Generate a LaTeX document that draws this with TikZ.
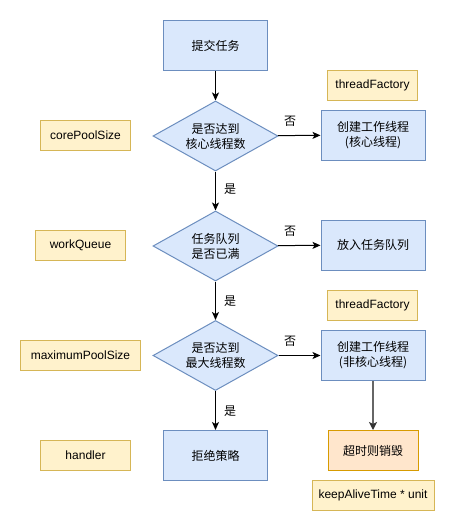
\documentclass[tikz,border=0pt]{standalone}
\usepackage{fontspec}
\setmainfont{Liberation Sans}
\newfontfamily\cjk{Noto Sans CJK SC}
\usetikzlibrary{shapes.geometric,arrows.meta}
\definecolor{bluefill}{HTML}{DAE8FC}
\definecolor{bluestroke}{HTML}{6C8EBF}
\definecolor{yelfill}{HTML}{FFF2CC}
\definecolor{yelstroke}{HTML}{D6B656}
\definecolor{orfill}{HTML}{FFE6CC}
\definecolor{orstroke}{HTML}{D79B00}
\definecolor{grayline}{HTML}{666666}
\tikzset{
  bluebox/.style={draw=bluestroke, fill=bluefill, line width=1pt, minimum width=104pt, minimum height=50pt, inner sep=0pt, align=center, font=\cjk\fontsize{12}{15}\selectfont},
  decision/.style={diamond, aspect=1.786, draw=bluestroke, fill=bluefill, line width=1pt, minimum width=125pt, minimum height=70pt, inner sep=0pt, align=center, font=\cjk\fontsize{12}{15}\selectfont},
  param/.style={draw=yelstroke, fill=yelfill, line width=1pt, minimum height=30pt, inner sep=0pt, font=\fontsize{12}{15}\selectfont},
  orbox/.style={draw=orstroke, fill=orfill, line width=1pt, minimum width=90pt, minimum height=40pt, inner sep=0pt, font=\cjk\fontsize{12}{15}\selectfont},
  arr/.style={line width=1pt, -{Stealth[length=8pt,width=7pt,inset=2pt]}},
  grayarr/.style={line width=1.6pt, draw=grayline, -{Stealth[length=8pt,width=8pt,inset=2pt,color=black!80,fill=black!80]}},
  lbl/.style={font=\cjk\fontsize{12}{15}\selectfont, inner sep=0pt}
}
\begin{document}
\begin{tikzpicture}[x=1pt,y=-1pt]
\useasboundingbox[fill=white] (0,0) rectangle (455,531);
% main flow
\node[bluebox] (start) at (215.5,45.5) {提交任务};
\node[decision] (d1) at (215.5,136) {是否达到\\核心线程数};
\node[decision] (d2) at (215.5,246) {任务队列\\是否已满};
\node[decision] (d3) at (215.5,355.5) {是否达到\\最大线程数};
\node[bluebox] (reject) at (215.5,455.5) {拒绝策略};
% right column
\node[bluebox] (core) at (373,135) {创建工作线程\\(核心线程)};
\node[bluebox] (queue) at (373,245) {放入任务队列};
\node[bluebox] (noncore) at (373,355.5) {创建工作线程\\(非核心线程)};
\node[orbox] (destroy) at (373,450.5) {超时则销毁};
% parameters
\node[param, minimum width=90pt] (tf1) at (372.5,85.5) {threadFactory};
\node[param, minimum width=90pt] (tf2) at (372.5,305.5) {threadFactory};
\node[param, minimum width=122pt] (keep) at (373,495) {keepAliveTime * unit};
\node[param, minimum width=90pt] (cps) at (85.5,135.5) {corePoolSize};
\node[param, minimum width=90pt] (wq) at (80.5,245.5) {workQueue};
\node[param, minimum width=120pt] (mps) at (80.5,355.5) {maximumPoolSize};
\node[param, minimum width=90pt] (hd) at (85.5,455.5) {handler};
% connectors
\draw[arr] (start) -- (d1);
\draw[arr] (d1) -- (d2);
\draw[arr] (d2) -- (d3);
\draw[arr] (d3) -- (reject);
\draw[arr] (d1) -- (core);
\draw[arr] (d2) -- (queue);
\draw[arr] (d3) -- (noncore);
\draw[grayarr] (noncore) -- (destroy);
% labels
\node[lbl] (y1) at (230,189) {是};
\node[lbl] (y2) at (230,301) {是};
\node[lbl] (y3) at (230,411) {是};
\node[lbl] (n1) at (290,121) {否};
\node[lbl] (n2) at (290,231) {否};
\node[lbl] (n3) at (290,341) {否};
\end{tikzpicture}
\end{document}
